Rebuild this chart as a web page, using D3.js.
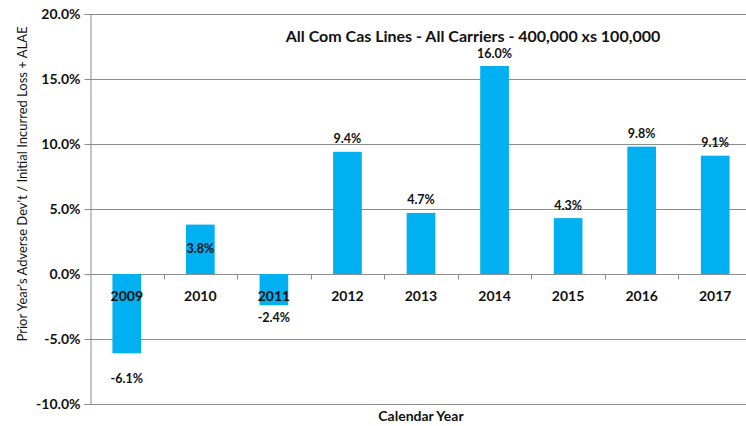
<!DOCTYPE html>
<html>
<head>
<meta charset="utf-8">
<script src="https://cdn.jsdelivr.net/npm/d3@7"></script>
<style>
  html, body { margin: 0; padding: 0; background: #fff; }
  svg { display: block; }
  text { font-family: Lato, "Liberation Sans", Arial, sans-serif; fill: #111; }
</style>
</head>
<body>
<svg id="chart" width="746" height="426"></svg>
<script>
// Adverse development by calendar year, in percent
const years = ["2009", "2010", "2011", "2012", "2013", "2014", "2015", "2016", "2017"];
const devPct = [-6.1, 3.8, -2.4, 9.4, 4.7, 16.0, 4.3, 9.8, 9.1];
const yTicks = [-10, -5, 0, 5, 10, 15, 20];
// Labels drawn centred inside the bar instead of above it
const insideLabels = ["2010"];
// Labels pushed further below their bar
const lowLabels = ["2009"];

const titleText = "All Com Cas Lines - All Carriers - 400,000 xs 100,000";
const yTitle = "Prior Year's Adverse Dev't / Initial Incurred Loss + ALAE";
const xTitle = "Calendar Year";

const svg = d3.select("#chart");
const margin = { left: 90, top: 14, right: 752, bottom: 404 };

const x = d3.scaleBand()
  .domain(years)
  .range([margin.left, margin.right])
  .paddingInner(0.61)
  .paddingOuter(0.305);

const y = d3.scaleLinear()
  .domain([-10, 20])
  .range([margin.bottom, margin.top]);

const gridColor = "#8c8c8c";
const pct = d => d.toFixed(1) + "%";

// Horizontal gridlines
svg.append("g")
  .selectAll("line")
  .data(yTicks)
  .join("line")
  .attr("x1", margin.left)
  .attr("x2", margin.right)
  .attr("y1", d => Math.round(y(d)) + 0.5)
  .attr("y2", d => Math.round(y(d)) + 0.5)
  .attr("stroke", gridColor)
  .attr("stroke-width", 1);

// Left value axis
const yAxis = svg.append("g")
  .attr("transform", `translate(${margin.left + 0.5},0)`)
  .call(d3.axisLeft(y).tickValues(yTicks).tickSize(6).tickPadding(4).tickFormat(pct));
yAxis.select(".domain").attr("stroke", gridColor);
yAxis.selectAll(".tick line").attr("stroke", gridColor);
yAxis.selectAll(".tick text")
  .attr("font-size", 14)
  .attr("font-weight", "bold")
  .attr("fill", "#111")
  .style("font-family", "Lato, 'Liberation Sans', Arial, sans-serif");

// Bars
const bars = years.map((yr, i) => ({ year: yr, v: devPct[i] }));
svg.append("g")
  .selectAll("rect")
  .data(bars)
  .join("rect")
  .attr("x", d => x(d.year))
  .attr("width", x.bandwidth())
  .attr("y", d => y(Math.max(0, d.v)))
  .attr("height", d => Math.abs(y(d.v) - y(0)))
  .attr("fill", "#00b0f0");

// Category axis along the zero line, ticks between categories
const zeroY = Math.round(y(0)) + 0.5;
const step = x.step();
const boundaries = d3.range(1, years.length).map(i => margin.left + i * step);
svg.append("g")
  .selectAll("line")
  .data(boundaries)
  .join("line")
  .attr("x1", d => Math.round(d) + 0.5)
  .attr("x2", d => Math.round(d) + 0.5)
  .attr("y1", zeroY)
  .attr("y2", zeroY + 5)
  .attr("stroke", gridColor);

svg.append("g")
  .selectAll("text")
  .data(years)
  .join("text")
  .attr("x", d => x(d) + x.bandwidth() / 2)
  .attr("y", zeroY + 26)
  .attr("text-anchor", "middle")
  .attr("font-size", 14)
  .attr("font-weight", "bold")
  .text(d => d);

// Value labels
svg.append("g")
  .selectAll("text")
  .data(bars)
  .join("text")
  .attr("x", d => x(d.year) + x.bandwidth() / 2)
  .attr("y", d => {
    if (insideLabels.includes(d.year)) return (y(d.v) + y(0)) / 2 + 4;
    if (lowLabels.includes(d.year)) return y(d.v) + 30;
    return d.v >= 0 ? y(d.v) - 8.5 : y(d.v) + 17;
  })
  .attr("text-anchor", "middle")
  .attr("font-size", 12.5)
  .attr("font-weight", "bold")
  .text(d => pct(d.v));

// Chart title
svg.append("text")
  .attr("x", 473)
  .attr("y", 42)
  .attr("text-anchor", "middle")
  .attr("font-size", 16)
  .attr("font-weight", "bold")
  .text(titleText);

// Axis titles
svg.append("text")
  .attr("transform", `translate(27,184) rotate(-90)`)
  .attr("text-anchor", "middle")
  .attr("font-size", 13)
  .text(yTitle);

svg.append("text")
  .attr("x", 421)
  .attr("y", 421)
  .attr("text-anchor", "middle")
  .attr("font-size", 14)
  .attr("font-weight", "bold")
  .text(xTitle);
</script>
</body>
</html>
